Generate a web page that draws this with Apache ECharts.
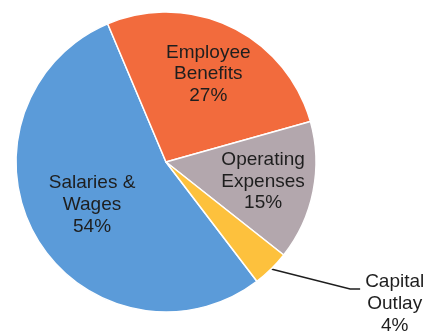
<!DOCTYPE html>
<html>
<head>
<meta charset="utf-8">
<script src="https://cdn.jsdelivr.net/npm/echarts@6/dist/echarts.min.js"></script>
<style>
  html, body { margin: 0; padding: 0; background: #fff; }
  #chart { width: 431px; height: 335px; }
</style>
</head>
<body>
<div id="chart"></div>
<script>
// Budget shares by expense type
const categories = ['Salaries &\nWages', 'Employee\nBenefits', 'Operating\nExpenses', 'Capital\nOutlay'];
const shares = [54, 27, 15, 4];
const sliceColors = ['#5b9bd9', '#f26b3d', '#b3a7ad', '#fdc13d'];

// Pie geometry (px, degrees counter-clockwise from 3 o'clock)
const CX = 166, CY = 162, R = 150, START = 307.3;
// Where each inside label sits, as a fraction of the radius (null = outside label)
const labelRadius = [0.57, 0.65, 0.66, null];

// Unit vector towards the middle of slice i
function midDir(i) {
  const total = shares.reduce((a, b) => a + b, 0);
  let before = 0;
  for (let k = 0; k < i; k++) before += shares[k];
  const a = (START - 360 * (before + shares[i] / 2) / total) * Math.PI / 180;
  return [Math.cos(a), -Math.sin(a)];
}

const chart = echarts.init(document.getElementById('chart'), null, { renderer: 'canvas' });

chart.setOption({
  backgroundColor: '#ffffff',
  animation: false,
  series: [{
    type: 'pie',
    center: [CX, CY],
    radius: [0, R],
    startAngle: START,
    clockwise: true,
    avoidLabelOverlap: false,
    itemStyle: { borderColor: '#ffffff', borderWidth: 1.5 },
    label: {
      position: 'inside',
      formatter: p => p.name + '\n' + p.value + '%',
      fontFamily: 'Liberation Sans, Arial, sans-serif',
      fontSize: 19,
      lineHeight: 21.8,
      color: '#1e1e1e',
      align: 'center'
    },
    labelLine: { show: false },
    labelLayout: function (p) {
      const [ux, uy] = midDir(p.dataIndex);
      const f = labelRadius[p.dataIndex];
      if (f != null) {
        return { x: CX + ux * R * f, y: CY + uy * R * f, align: 'center', verticalAlign: 'middle' };
      }
      // Small slice: label to the lower right, joined to the rim by a leader
      const ex = CX + ux * R, ey = CY + uy * R;
      const kx = ex + 79, ky = ey + 20;
      return {
        x: kx + 10 + p.labelRect.width / 2, y: ky + 15,
        align: 'center', verticalAlign: 'middle',
        labelLinePoints: [[ex, ey], [kx, ky], [kx + 10, ky]]
      };
    },
    data: categories.map((name, i) => {
      const item = { name: name, value: shares[i], itemStyle: { color: sliceColors[i] } };
      if (labelRadius[i] == null) {
        item.label = { position: 'outside', padding: [0, 0, 0, 5] };
        item.labelLine = { show: true, length: 20, length2: 8, lineStyle: { color: '#1e1e1e', width: 1.4 } };
      }
      return item;
    })
  }]
});
</script>
</body>
</html>
